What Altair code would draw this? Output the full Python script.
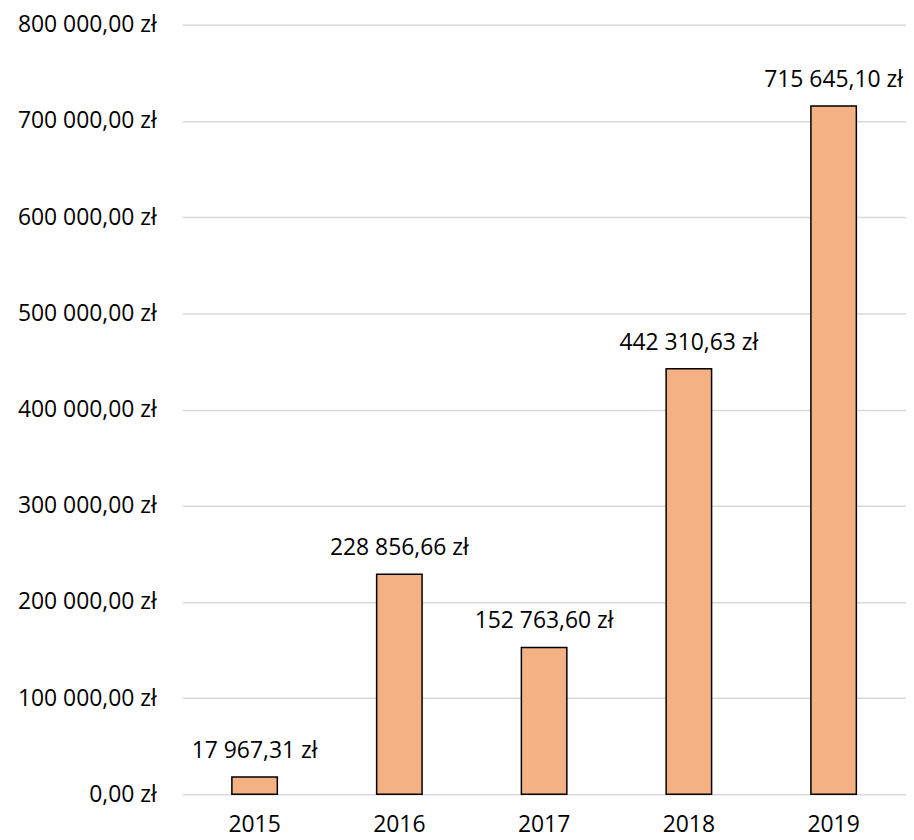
import altair as alt
import pandas as pd

years = ["2015", "2016", "2017", "2018", "2019"]
values = [17967.31, 228856.66, 152763.60, 442310.63, 715645.10]
labels = ["17 967,31 zł", "228 856,66 zł", "152 763,60 zł", "442 310,63 zł", "715 645,10 zł"]
ticks = [0, 100000, 200000, 300000, 400000, 500000, 600000, 700000, 800000]

df = pd.DataFrame({"year": years, "value": values, "label": labels})

FONT = "Open Sans"
FS = 23

base = alt.Chart(df).encode(
    x=alt.X("year:N", title=None,
            scale=alt.Scale(paddingInner=0.686, paddingOuter=0.343),
            axis=alt.Axis(labelAngle=0, domain=False, ticks=False, grid=False, labelPadding=19,
                          labelFont=FONT, labelFontSize=FS, labelFontWeight="normal",
                          labelColor="#000000")),
    y=alt.Y("value:Q", title=None,
            scale=alt.Scale(domain=[0, 800000]),
            axis=alt.Axis(values=ticks,
                          labelExpr="replace(replace(format(datum.value, ',.2f'), ',', ' '), '.', ',') + ' zł'",
                          domain=False, ticks=False, labelPadding=26,
                          labelFont=FONT, labelFontSize=FS, labelFontWeight="normal",
                          labelColor="#000000",
                          gridColor="#d9d9d9", gridWidth=1.5)),
)

bars = base.mark_bar(fill="#F4B183", stroke="#000000", strokeWidth=1.5)
text = base.mark_text(baseline="alphabetic", dy=-19, font=FONT, fontSize=FS,
                      fontWeight="normal", color="#000000").encode(text="label:N")

chart = (bars + text).properties(
    width=727, height=773,
    background="#ffffff",
    autosize=alt.AutoSizeParams(type="none"),
    padding={"left": 175, "top": 15, "right": 0, "bottom": 44},
).configure_view(
    stroke=None, strokeWidth=0
).configure_axis(
    domain=False
)

chart.save("out.html", embed_options={"renderer": "svg", "actions": False})
